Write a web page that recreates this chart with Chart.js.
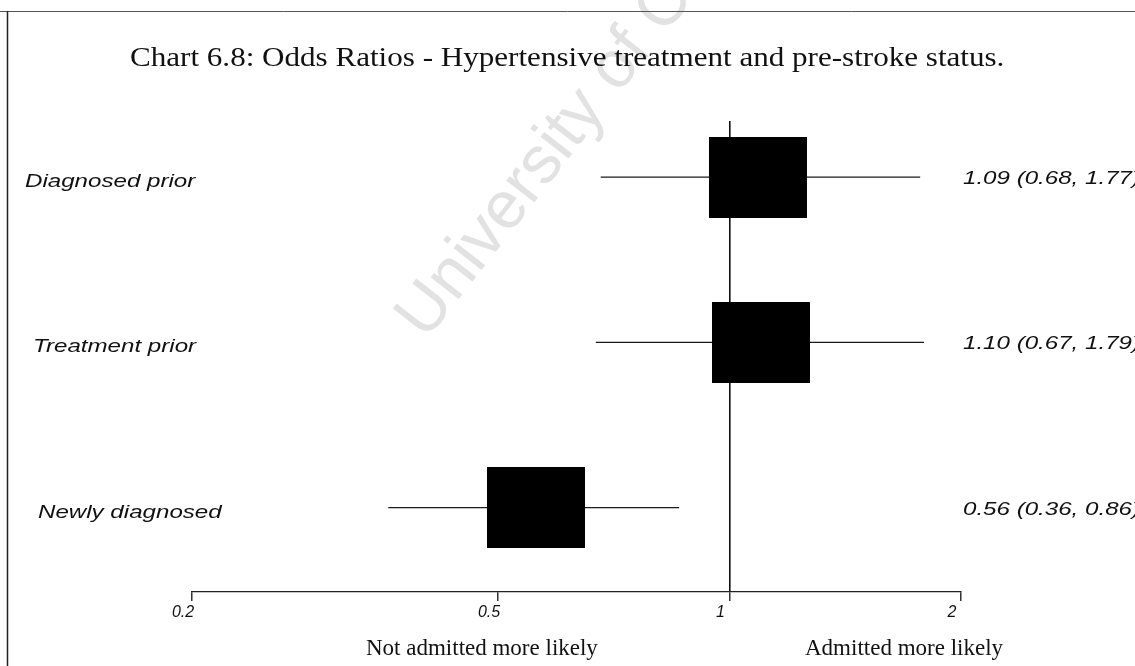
<!DOCTYPE html>
<html>
<head>
<meta charset="utf-8">
<script src="https://cdn.jsdelivr.net/npm/chart.js@4.4.1/dist/chart.umd.min.js"></script>
<style>
  html, body { margin: 0; padding: 0; background: #fff; }
  #wrap { width: 1135px; height: 666px; position: relative; }
</style>
</head>
<body>
<div id="wrap"><canvas id="orChart"></canvas></div>
<script>
const chartTitle = 'Chart 6.8: Odds Ratios - Hypertensive treatment and pre-stroke status.';
const rowLabels = ['Diagnosed prior', 'Treatment prior', 'Newly diagnosed'];
const oddsRatios = [1.09, 1.10, 0.56];
const lowerCI = [0.68, 0.67, 0.36];
const upperCI = [1.77, 1.79, 0.86];
const tickValues = [0.2, 0.5, 1, 2];
const tickLabels = ['0.2', '0.5', '1', '2'];
const sideLabels = ['Not admitted more likely', 'Admitted more likely'];
const watermark = 'University of Cape Town';

const rows = rowLabels.map((_, i) => i + 1);
const ciText = oddsRatios.map((v, i) =>
    `${v.toFixed(2)} (${lowerCI[i].toFixed(2)}, ${upperCI[i].toFixed(2)})`);

// black box marker (scan is a bit wider than tall)
const boxMark = document.createElement('canvas');
boxMark.width = 98;
boxMark.height = 81;
const bctx = boxMark.getContext('2d');
bctx.fillStyle = '#000';
bctx.fillRect(0, 0, boxMark.width, boxMark.height);

function stretchText(ctx, text, x, y, font, sx) {
    ctx.save();
    ctx.font = font;
    ctx.textAlign = 'left';
    ctx.textBaseline = 'alphabetic';
    ctx.fillStyle = '#111';
    ctx.translate(x, y);
    ctx.scale(sx, 1);
    ctx.fillText(text, 0, 0);
    ctx.restore();
}

// row labels in the scan are not quite left aligned
const labelIndent = [25, 33, 38];

const decorPlugin = {
    id: 'decor',
    beforeDraw(chart) {
        const ctx = chart.ctx;
        ctx.save();
        ctx.translate(426, 341);
        ctx.rotate(-52 * Math.PI / 180);
        ctx.font = '67px "Liberation Sans"';
        ctx.fillStyle = '#e2e2e2';
        ctx.fillText(watermark, 0, 0);
        ctx.restore();
    },
    afterDraw(chart) {
        const ctx = chart.ctx;
        const y = chart.scales.y;

        stretchText(ctx, chartTitle, 130, 66, '28px "Liberation Serif"', 1.11);

        rows.forEach((r, i) => {
            const py = y.getPixelForValue(r);
            stretchText(ctx, rowLabels[i], labelIndent[i], py + 10, 'italic 18px "Liberation Sans"', 1.34);
            stretchText(ctx, ciText[i], 963, py + 7, 'italic 18px "Liberation Sans"', 1.34);
        });

        stretchText(ctx, sideLabels[0], 366, 655, '23px "Liberation Serif"', 1);
        stretchText(ctx, sideLabels[1], 805, 655, '23px "Liberation Serif"', 1);

        // page frame
        ctx.save();
        ctx.strokeStyle = '#555';
        ctx.lineWidth = 1;
        ctx.beginPath();
        ctx.moveTo(0, 11.5);
        ctx.lineTo(1135, 11.5);
        ctx.stroke();
        ctx.strokeStyle = '#222';
        ctx.lineWidth = 1.5;
        ctx.beginPath();
        ctx.moveTo(7.5, 11);
        ctx.lineTo(7.5, 666);
        ctx.stroke();
        ctx.restore();
    }
};

const ciSets = rows.map((r, i) => ({
    data: [{ x: lowerCI[i], y: r }, { x: upperCI[i], y: r }],
    showLine: true,
    borderColor: '#1a1a1a',
    borderWidth: 1.3,
    pointRadius: 0,
    order: 2
}));

const boxSet = {
    data: rows.map((r, i) => ({ x: oddsRatios[i], y: r })),
    pointStyle: boxMark,
    pointRadius: 10,
    backgroundColor: '#000',
    borderColor: '#000',
    order: 1
};

new Chart(document.getElementById('orChart'), {
    type: 'scatter',
    data: { datasets: [boxSet, ...ciSets] },
    options: {
        responsive: true,
        maintainAspectRatio: false,
        animation: false,
        layout: { padding: { left: 192, right: 174, top: 121, bottom: 34 } },
        plugins: {
            legend: { display: false },
            tooltip: { enabled: false },
            title: { display: false }
        },
        scales: {
            x: {
                type: 'logarithmic',
                min: 0.2,
                max: 2,
                afterBuildTicks: s => { s.ticks = tickValues.map(v => ({ value: v })); },
                afterFit: s => { s.height = 40; },
                ticks: {
                    callback: (v, i) => tickLabels[i],
                    font: { family: 'Liberation Sans', style: 'italic', size: 16 },
                    color: '#111',
                    padding: 2,
                    labelOffset: -9,
                    maxRotation: 0,
                    autoSkip: false
                },
                grid: {
                    drawOnChartArea: true,
                    color: c => (c.tick && c.tick.value === 1) ? '#111' : 'rgba(0,0,0,0)',
                    lineWidth: 1.6,
                    tickLength: 9,
                    tickColor: '#111',
                    tickWidth: 1.3
                },
                border: { display: true, color: '#222', width: 1.3 }
            },
            y: {
                type: 'linear',
                reverse: true,
                min: 0.66,
                max: 3.51,
                display: false
            }
        }
    },
    plugins: [decorPlugin]
});
</script>
</body>
</html>
